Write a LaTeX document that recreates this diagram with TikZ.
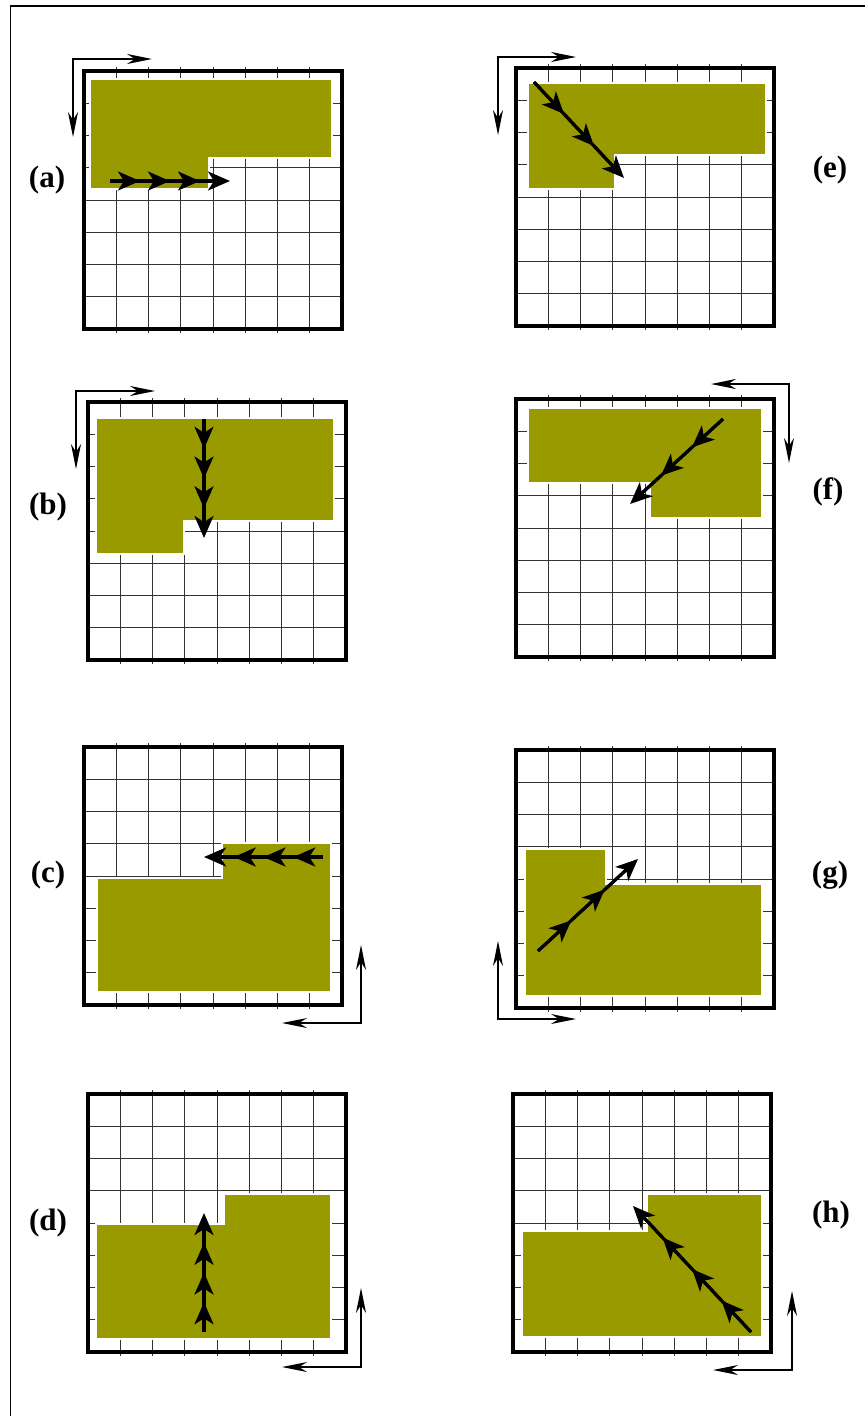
\documentclass[tikz,border=0pt]{standalone}
\usepackage{fontspec}
\setmainfont{Liberation Serif}
\usetikzlibrary{arrows.meta,calc}
\definecolor{fieldgreen}{RGB}{153,153,0}

\begin{document}
\begin{tikzpicture}[
    x=1pt, y=-1pt,
    frm/.style={line width=4pt},
    gridln/.style={line width=0.9pt, black!80},
    region/.style={fill=fieldgreen, draw=white, line width=2.5pt},
    axis/.style={line width=1.3pt,
      {Stealth[length=25pt,width=10pt,inset=8pt]}-{Stealth[length=25pt,width=10pt,inset=8pt]}},
    trackline/.style={line width=3.1pt},
    track/.style={trackline, -{Stealth[length=22pt,width=19pt,inset=6pt]}},
    lab/.style={font=\fontsize{31}{36}\selectfont\bfseries},
  ]
  \useasboundingbox (0,0) rectangle (865,1416);

  %% ---- page rule (top and left) -------------------------------------
  \draw[line width=1.3pt] (865,6) -- (10.5,6) -- (10.5,1416);

  %% ---- the eight 8x8 grids ------------------------------------------
  \foreach \px/\py in {84/71,516/68,88/402,516/399,84/747,516/750,88/1094,513/1094}{
    \foreach \i in {1,...,7}{
      \draw[gridln] ({\px+\i*32.25},{\py-4}) -- ({\px+\i*32.25},{\py+262});
      \draw[gridln] (\px,{\py+\i*32.25}) -- ({\px+258},{\py+\i*32.25});
    }
  }

  %% ---- filled regions -----------------------------------------------
  \path[region] (90,79) -- (332,79) -- (332,158) -- (209,158) -- (209,189) -- (90,189) -- cycle;
  \path[region] (528,83) -- (766,83) -- (766,155) -- (615,155) -- (615,189) -- (528,189) -- cycle;
  \path[region] (96,418) -- (334,418) -- (334,521) -- (184,521) -- (184,554) -- (96,554) -- cycle;
  \path[region] (528,408) -- (762,408) -- (762,518) -- (650,518) -- (650,483) -- (528,483) -- cycle;
  \path[region] (97,878) -- (222,878) -- (222,843) -- (331,843) -- (331,992) -- (97,992) -- cycle;
  \path[region] (525,849) -- (606,849) -- (606,884) -- (762,884) -- (762,996) -- (525,996) -- cycle;
  \path[region] (96,1224) -- (224,1224) -- (224,1194) -- (331,1194) -- (331,1339) -- (96,1339) -- cycle;
  \path[region] (522,1231) -- (647,1231) -- (647,1194) -- (762,1194) -- (762,1337) -- (522,1337) -- cycle;

  %% ---- frames -------------------------------------------------------
  \foreach \px/\py in {84/71,516/68,88/402,516/399,84/747,516/750,88/1094,513/1094}
    \draw[frm] (\px,\py) rectangle ++(258,258);

  %% ---- scan tracks, one head per step -------------------------------
  \coordinate (a-s) at (110,181);   \coordinate (a-e) at (230,181);
  \coordinate (b-s) at (204,419);   \coordinate (b-e) at (204,538);
  \coordinate (c-s) at (323,857);   \coordinate (c-e) at (204,857);
  \coordinate (d-s) at (204,1332);  \coordinate (d-e) at (204,1213);
  \coordinate (e-s) at (534,82);    \coordinate (e-e) at (624,178);
  \coordinate (f-s) at (723,419);   \coordinate (f-e) at (630,504);
  \coordinate (g-s) at (538,951);   \coordinate (g-e) at (638,859);
  \coordinate (h-s) at (751,1332);  \coordinate (h-e) at (633,1206);
  \foreach \p/\n in {a/4,b/4,c/4,d/4,e/3,f/3,g/3,h/4}{
    \draw[trackline] (\p-s) -- ($(\p-s)!0.9!(\p-e)$);
    \foreach \k in {1,...,\n}{
      \pgfmathsetmacro\fa{(\k-1)/\n}
      \pgfmathsetmacro\fb{\k/\n}
      \draw[track] ($(\p-s)!\fa!(\p-e)$) -- ($(\p-s)!\fb!(\p-e)$);
    }
  }

  %% ---- axis corners -------------------------------------------------
  \foreach \cx/\cy/\hx/\vy in {73/59/152/137, 498/57/576/135, 76/391/155/469,
      789/384/711/463, 361/1023/282/945, 498/1019/576/941,
      361/1367/282/1288, 792/1370/713/1291}{
    \coordinate (o) at (\cx,\cy);
    \coordinate (ox) at (\hx,\cy);
    \coordinate (oy) at (\cx,\vy);
    \draw[axis] (ox) -- (o) -- (oy);
  }

  %% ---- panel labels -------------------------------------------------
  \node[lab] (lab-a) at (47,180)  {(a)};
  \node[lab] (lab-b) at (48,507)  {(b)};
  \node[lab] (lab-c) at (48,875)  {(c)};
  \node[lab] (lab-d) at (48,1223) {(d)};
  \node[lab] (lab-e) at (830,170) {(e)};
  \node[lab] (lab-f) at (828,492) {(f)};
  \node[lab] (lab-g) at (830,875) {(g)};
  \node[lab] (lab-h) at (831,1215) {(h)};
\end{tikzpicture}
\end{document}
